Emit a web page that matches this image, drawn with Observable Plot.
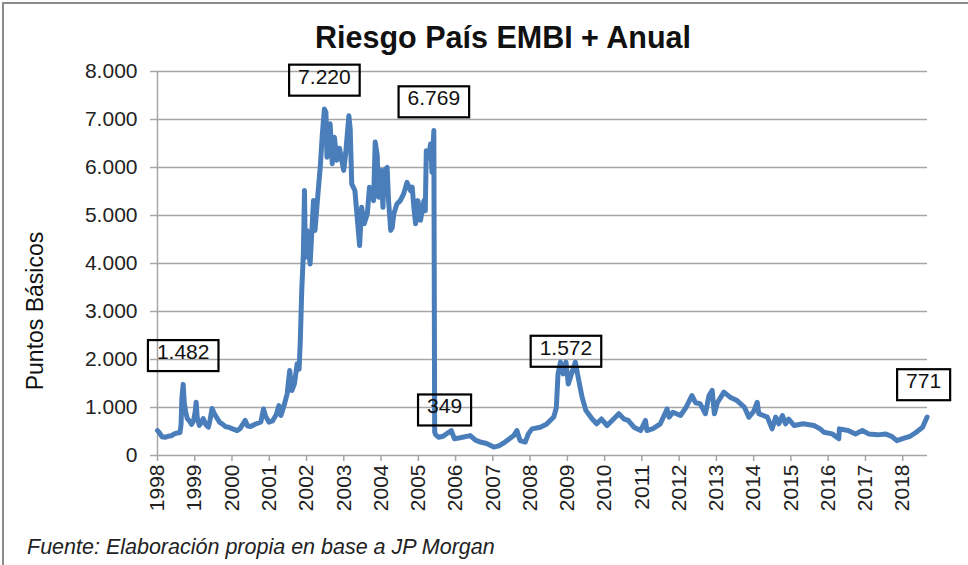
<!DOCTYPE html>
<html>
<head>
<meta charset="utf-8">
<script src="https://cdn.jsdelivr.net/npm/d3@7"></script>
<script src="https://cdn.jsdelivr.net/npm/@observablehq/plot@0.6"></script>
<style>
  html, body { margin: 0; padding: 0; background: #fff; overflow: hidden; }
  #wrap { position: relative; width: 968px; height: 565px; font-family: "Liberation Sans", Arial, sans-serif; color: #222; }
  #frame { position: absolute; left: 2px; top: 2px; width: 1200px; height: 800px; border: 2px solid #8c8c8c; box-sizing: border-box; }
  #title { position: absolute; left: 0; width: 1006px; top: 20px; text-align: center; font-weight: bold; font-size: 30.5px; color: #111; }
  #caption { position: absolute; left: 27px; top: 535px; font-style: italic; font-size: 21.5px; color: #222; }
  #ylabel { position: absolute; left: 35px; top: 311px; transform: translate(-50%, -50%) rotate(-90deg); white-space: nowrap; font-size: 23px; color: #111; }
  #chart { position: absolute; left: 0; top: 0; }
</style>
</head>
<body>
<div id="wrap">
  <div id="frame"></div>
  <div id="chart"></div>
  <div id="title">Riesgo País EMBI + Anual</div>
  <div id="ylabel">Puntos Básicos</div>
  <div id="caption">Fuente: Elaboración propia en base a JP Morgan</div>
</div>
<script>
// ---- Data ----
const dates = [
  "1998-01-01","1998-01-20","1998-02-15","1998-03-15","1998-04-15","1998-05-15","1998-06-15","1998-07-15",
  "1998-08-10","1998-08-20","1998-08-28","1998-09-10","1998-09-20","1998-10-05","1998-10-20","1998-11-10",
  "1998-12-01","1998-12-20","1999-01-05","1999-01-15","1999-01-25","1999-02-15","1999-03-10","1999-03-25",
  "1999-04-20","1999-05-15","1999-06-01","1999-06-20","1999-07-10","1999-08-01","1999-09-01","1999-10-01",
  "1999-11-01","1999-12-01","2000-01-01","2000-02-20","2000-03-20","2000-05-10","2000-06-01","2000-07-01",
  "2000-08-15","2000-10-10","2000-11-05","2000-11-25","2000-12-28","2001-02-01","2001-03-10","2001-04-05",
  "2001-04-25","2001-05-20","2001-06-25","2001-07-20","2001-08-10","2001-09-05","2001-10-01","2001-10-20",
  "2001-11-01","2001-11-15","2001-12-01","2001-12-12","2001-12-20","2002-01-05","2002-02-05","2002-03-10",
  "2002-03-25","2002-04-20","2002-05-15","2002-06-05","2002-06-25","2002-07-10","2002-07-20","2002-08-20",
  "2002-09-10","2002-10-01","2002-10-25","2002-11-20","2002-12-31","2003-01-20","2003-02-20","2003-03-05",
  "2003-03-20","2003-04-20","2003-06-05","2003-06-25","2003-07-20","2003-08-20","2003-09-10","2003-10-20",
  "2003-11-05","2003-11-25","2003-12-08","2004-01-01","2004-01-20","2004-02-01","2004-03-01","2004-03-15",
  "2004-04-05","2004-04-20","2004-05-05","2004-06-05","2004-07-08","2004-08-10","2004-09-12","2004-10-15",
  "2004-11-02","2004-11-18","2004-12-05","2004-12-28","2005-01-22","2005-02-25","2005-03-10","2005-03-20",
  "2005-04-10","2005-05-01","2005-05-15","2005-06-02","2005-06-10","2005-06-20","2005-07-20","2005-09-01",
  "2005-11-20","2005-12-20","2006-02-15","2006-05-25","2006-07-15","2006-09-01","2006-11-01","2007-01-10",
  "2007-03-01","2007-05-01","2007-07-25","2007-08-25","2007-09-25","2007-11-15","2007-12-15","2008-01-20",
  "2008-04-10","2008-06-10","2008-08-20","2008-09-15","2008-10-01","2008-10-25","2008-11-20","2008-12-18",
  "2009-01-10","2009-02-10","2009-03-20","2009-04-10","2009-05-25","2009-07-01","2009-09-01","2009-10-15",
  "2009-12-01","2010-01-25","2010-03-15","2010-05-20","2010-07-10","2010-08-20","2010-10-15","2010-12-20",
  "2011-02-05","2011-02-20","2011-04-20","2011-07-01","2011-09-05","2011-09-25","2011-11-01","2012-01-15",
  "2012-03-10","2012-05-05","2012-06-10","2012-07-25","2012-09-15","2012-10-20","2012-11-20","2012-12-12",
  "2013-01-10","2013-03-15","2013-05-15","2013-07-22","2013-10-01","2013-11-15","2014-01-01","2014-02-05",
  "2014-02-20","2014-04-05","2014-05-15","2014-07-01","2014-08-05","2014-09-05","2014-10-10","2014-11-10",
  "2014-12-10","2015-02-01","2015-05-01","2015-08-15","2015-10-15","2015-11-20","2016-02-10","2016-04-15",
  "2016-04-20","2016-07-15","2016-09-25","2016-12-01","2017-02-01","2017-05-01","2017-07-15","2017-09-15",
  "2017-11-05","2018-01-15","2018-03-15","2018-05-10","2018-07-15","2018-08-28"
];
const values = [
  520,470,390,380,400,410,450,470,
  480,650,1200,1482,1100,900,770,720,
  650,720,900,1110,800,625,700,770,
  640,590,750,980,880,800,695,650,
  600,590,560,520,560,730,620,604,
  650,700,970,820,695,720,850,1040,
  833,1000,1285,1770,1354,1500,1910,1800,
  2400,3440,4200,5520,4130,4690,3990,5310,
  4690,5380,6000,6700,7220,7150,6215,6910,
  6080,6630,6150,6400,5940,6300,7080,6800,
  5660,5520,4375,5170,4826,5035,5590,5310,
  6530,6250,5380,5940,5170,5940,6000,5310,
  4690,4750,5030,5240,5310,5450,5690,5520,
  5590,5170,4830,5310,4900,5310,5100,6350,
  6200,6490,5900,6769,485,430,380,400,
  520,350,370,415,320,280,250,175,
  200,280,415,520,310,280,450,555,
  590,650,800,1000,1700,1945,1700,1945,
  1490,1700,1945,1700,1215,940,760,660,
  760,625,730,870,760,730,590,520,
  730,520,560,660,970,800,900,833,
  1005,1250,1100,1080,870,1250,1355,870,
  1100,1320,1215,1145,1010,800,920,1110,
  870,833,800,555,800,660,833,660,
  760,625,660,625,555,485,450,350,
  555,520,450,520,450,430,450,400,
  310,360,400,480,590,800
];
const years = [1998,1999,2000,2001,2002,2003,2004,2005,2006,2007,2008,2009,2010,2011,2012,2013,2014,2015,2016,2017,2018];
const yTicks = [0,1000,2000,3000,4000,5000,6000,7000,8000];
const annDates = ["1998-09-10","2002-06-25","2005-06-02","2005-09-15","2008-12-18"];
const annValues = [1482,7220,6769,349,1572];
const lastDate = ["2018-07-25"];
const lastValue = [771];

// ---- Build ----
const parse = d3.utcParse("%Y-%m-%d");
const series = dates.map((d, i) => ({date: parse(d), value: values[i]}));
const ann = annDates.map((d, i) => ({date: parse(d), value: annValues[i]}));
const annLast = lastDate.map((d, i) => ({date: parse(d), value: lastValue[i]}));
const fmt = d3.formatLocale({decimal: ",", thousands: ".", grouping: [3], currency: ["$", ""]}).format(",.0f");
const yearDates = years.map(y => new Date(Date.UTC(y, 0, 1)));

const grid = "#a6a6a6";
const chart = Plot.plot({
  width: 968,
  height: 565,
  marginLeft: 157,
  marginRight: 41,
  marginTop: 71,
  marginBottom: 110,
  style: {background: "transparent", fontFamily: "'Liberation Sans', Arial, sans-serif", fontSize: "21px", color: "#222", overflow: "visible"},
  x: {type: "utc", domain: [parse("1998-01-01"), parse("2018-09-01")]},
  y: {domain: [0, 8000]},
  marks: [
    Plot.gridY(yTicks.slice(1), {stroke: grid, strokeOpacity: 1, strokeWidth: 1.5}),
    Plot.ruleX([parse("1998-01-01")], {stroke: grid, strokeWidth: 1.5}),
    Plot.ruleY([0], {stroke: grid, strokeWidth: 1.5}),
    Plot.axisY(yTicks, {tickSize: 7, tickPadding: 13, tickFormat: fmt, stroke: grid, strokeWidth: 1.5, fill: "#222", label: null}),
    Plot.axisX(yearDates, {tickSize: 6, tickPadding: 3, tickRotate: -90, tickFormat: d3.utcFormat("%Y"), stroke: grid, strokeWidth: 1.5, fill: "#222", label: null}),
    Plot.line(series, {x: "date", y: "value", stroke: "#4a7ebb", strokeWidth: 5, strokeLinejoin: "round", strokeLinecap: "round"}),
    Plot.text(ann, {x: "date", y: "value", text: d => fmt(d.value), dy: -32, fill: "#111", fontSize: 21, className: "ann"}),
    Plot.text(annLast, {x: "date", y: "value", text: d => fmt(d.value), dy: -37, fill: "#111", fontSize: 21, className: "ann"})
  ]
});
document.getElementById("chart").appendChild(chart);

// draw boxes around annotation labels
chart.querySelectorAll("g.ann text").forEach(t => {
  const b = t.getBBox();
  const r = document.createElementNS("http://www.w3.org/2000/svg", "rect");
  r.setAttribute("x", b.x - 9);
  r.setAttribute("y", b.y);
  r.setAttribute("width", b.width + 18);
  r.setAttribute("height", b.height + 8);
  r.setAttribute("fill", "none");
  r.setAttribute("stroke", "#000");
  r.setAttribute("stroke-width", 2.2);
  const tr = t.getAttribute("transform");
  if (tr) r.setAttribute("transform", tr);
  t.parentNode.insertBefore(r, t);
});
</script>
</body>
</html>
